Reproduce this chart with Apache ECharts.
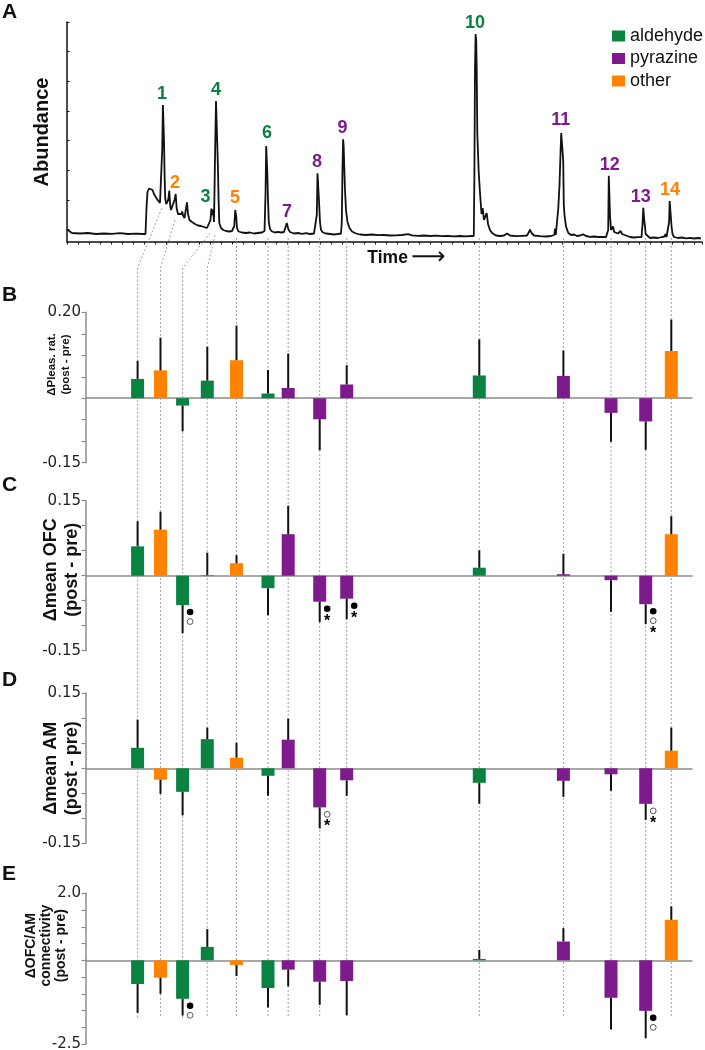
<!DOCTYPE html>
<html><head><meta charset="utf-8">
<script src="https://cdn.jsdelivr.net/npm/echarts@6/dist/echarts.min.js"></script>
<style>html,body{margin:0;padding:0;background:#fff}#c{width:705px;height:1050px}</style>
</head><body><div id="c"></div>
<script>
// ---------- DATA ----------
const compounds = ['1','2','3','4','5','6','7','8','9','10','11','12','13','14'];
const compoundClass = ['aldehyde','other','aldehyde','aldehyde','other','aldehyde','pyrazine','pyrazine','pyrazine','aldehyde','pyrazine','pyrazine','pyrazine','other'];
const classNames = ['aldehyde','pyrazine','other'];

// chromatogram trace: [scan, abundance]
const chromatogram = [[0,12.5],[2,10.5],[5,9],[13,8.5],[21,9],[29,8],[37,8.5],[45,8.2],[53,8.8],[61,8],[69,8.4],[76,8],[78.5,8],[79.5,34],[80.5,50],[82,53.5],[84,53.7],[85.5,52],[87,48],[89,44.5],[91,41.5],[93,39],[94.5,38],[95.2,92],[95.9,137],[96.5,136.5],[97,102],[97.6,67],[98.2,44],[99.2,38],[100.2,36],[101.2,42],[102.3,51.3],[103.2,37],[104,32],[105,31],[106,33],[107.5,42],[108.7,48],[109.6,34],[111,28],[113,26],[114.5,28],[115.2,30.5],[116,26.5],[117.5,24],[119,26],[120,39.7],[121,28],[122.5,22],[125,20],[128,18],[131,16.5],[134,16],[137,15],[140,14],[142,14.5],[143.5,22],[144.4,33.5],[145.2,27],[146.2,32.5],[147,20],[148.3,102],[149,141],[149.8,140.5],[150.3,97],[151,72],[151.6,42],[152.3,19],[154,14],[156.3,12],[159,11],[162,10.5],[165,11],[167.3,16],[168.2,32],[168.7,33],[169.3,25],[170,14],[171.5,10.5],[175,9.5],[179,9],[183,9.5],[187,8.5],[191,9],[195,9.5],[197.5,11],[198.5,47],[199.2,96],[199.8,97.7],[200.4,67],[201,42],[201.8,20],[203,13],[205,10.5],[208,9.5],[211,10.2],[214,9.5],[217,10],[219,12],[219.8,19],[220.5,18.5],[221.3,13],[223,10],[227,8.5],[231,9],[235,8.2],[239,8.8],[243,8],[247,8.5],[249,9.5],[249.8,27],[250.5,68.7],[251.2,68],[251.7,47],[252.3,45],[253,20],[254,12],[256,9.5],[259,8.5],[263,8],[267,7.5],[271,8],[274,8.5],[274.8,20],[275.5,73],[276.1,102.7],[276.7,95],[277.2,77],[278,52],[279,32],[280.5,20],[282.5,14],[285,10.5],[289,8.5],[293,7.5],[299,7],[305,7.5],[311,6.8],[317,7],[323,6.5],[329,6.7],[335,7],[341,7.8],[345,6.7],[351,6.2],[357,6.5],[363,6],[369,6.4],[375,5.8],[381,6],[387,5.7],[393,6],[399,5.6],[404,6],[406.8,6],[407.4,67],[408,172],[408.6,208],[409.2,202],[409.7,174],[410.3,109],[411.7,70],[413,49],[414.5,28],[415.7,34],[417,22],[418.5,20],[419.7,29],[421,18],[423,12],[425,9],[429,6.5],[433,6],[437,6.5],[440,8.5],[443,6.5],[449,5.8],[455,6.2],[460,6.5],[462,10],[463,12.5],[464.5,9],[467,6.5],[473,5.8],[479,5.5],[484,6],[487.3,7],[488,13.5],[488.8,7],[490.5,9],[491.3,34],[492.5,57],[493.3,82],[494.2,109],[495.3,111],[496.2,82],[496.8,37],[497.5,27],[499,15.5],[501.3,9],[504,7],[507,7.5],[510,6],[513,6.5],[516,7.7],[519,6],[523,5.2],[527,5.5],[531,5],[535,5.2],[539,5],[541.2,12],[541.8,66.3],[542.4,66],[543,27],[544,12],[545,14],[546,15.5],[547.2,10],[549,8],[551,8.5],[553.5,11],[555,8],[557,9.5],[559,6.5],[563,5],[567,4.5],[571,4.8],[574.5,5],[575.5,17],[576.3,34.3],[576.9,33.5],[577.4,20],[578,16],[578.6,8],[580,6],[583,4],[587,4.5],[591,4],[595,5],[597.5,5.5],[598.5,8],[599.5,5],[601.4,7],[602.1,20],[602.7,41],[603.3,40],[603.8,26],[604.5,16],[605.5,8],[607,5],[611,4],[615,4.5],[619,3.7],[623,4.2],[627,3.5],[631,4],[634,3.7]];
const abundanceTicks = [12.3, 42, 71.7, 101.4, 131, 160.7, 190.4, 220];

// peak number labels
const labelScan = [95, 108, 138.5, 149, 168, 200, 220, 250, 275.6, 408, 493.7, 542.7, 573.7, 603];
const peakTop   = [137, 48, 34, 141, 33, 98, 19, 69, 103, 208, 111, 66, 34, 41];

// connectors from chromatogram to bar rows
const connStartScan = [94.7, 108, 143, 148, 169.5, 201, 221.2, 252.7, 279.7, 412.3, 496.4, 544, 578.7, 604.3];
const connStartAbund = [33.7, 22, 8.7, 7, 4, 4, 4, 4, 4, 4, 4, 4, 4, 4];
const connKinkAbund = -26;
const connEndAbund = -776;

// bar positions (scan) in panels B-E
const barScan = [70.6, 93.5, 115.6, 140.3, 169.5, 201, 221.2, 252.7, 279.7, 412.3, 496.4, 544, 578.7, 604.3];

const dPleas    = [0.045, 0.065, -0.017, 0.041, 0.0885, 0.011, 0.024, -0.049, 0.032, 0.053, 0.052, -0.034, -0.054, 0.11];
const dPleasErr = [0.087, 0.141, -0.077, 0.12, 0.169, 0.066, 0.104, -0.121, 0.077, 0.137, 0.111, -0.1015, -0.12, 0.183];

const dOFC    = [0.0587, 0.092, -0.0587, 0.001, 0.025, -0.025, 0.083, -0.052, -0.046, 0.016, 0.003, -0.009, -0.057, 0.083];
const dOFCErr = [0.109, 0.128, -0.115, 0.046, 0.041, -0.079, 0.14, -0.093, -0.087, 0.051, 0.044, -0.072, -0.097, 0.119];
const sigOFC  = ['', '', '●○', '', '', '', '', '●*', '●*', '', '', '', '●○*', ''];

const dAM    = [0.0407, -0.0227, -0.047, 0.058, 0.021, -0.015, 0.057, -0.078, -0.024, -0.029, -0.025, -0.012, -0.071, 0.035];
const dAMErr = [0.097, -0.051, -0.094, 0.081, 0.051, -0.055, 0.099, -0.12, -0.055, -0.071, -0.057, -0.045, -0.103, 0.081];
const sigAM  = ['', '', '', '', '', '', '', '○*', '', '', '', '', '○*', ''];

const dConn    = [-0.71, -0.52, -1.15, 0.40, -0.14, -0.83, -0.28, -0.64, -0.62, 0.04, 0.56, -1.12, -1.51, 1.21];
const dConnErr = [-1.57, -1.0, -1.65, 0.93, -0.47, -1.41, -0.78, -1.33, -1.64, 0.31, 0.96, -2.07, -2.33, 1.61];
const sigConn  = ['', '', '●○', '', '', '', '', '', '', '', '', '', '●○', ''];

// ---------- STYLE / LAYOUT ----------
const classColors = {aldehyde:'#0A8241', pyrazine:'#7D1B8C', other:'#FF8200'};
const FONT = 'Liberation Sans';
const GRAY = '#8c8c8c';

const panels = [
  {letter:'B', title:'ΔPleas. rat.\n(post - pre)', values:dPleas, errs:dPleasErr, sig:null, min:-0.15, max:0.20, interval:0.05, dec:2,
   top:312.3, height:150.4, nameSize:11.5, nameLine:14.5, nameGap:12.5, nameShift:23, letterTop:285},
  {letter:'C', title:'Δmean OFC\n(post - pre)', values:dOFC, errs:dOFCErr, sig:sigOFC, min:-0.15, max:0.15, interval:0.05, dec:2,
   top:500.7, height:150, nameSize:18, nameLine:20.5, nameGap:4, nameShift:6, letterTop:475},
  {letter:'D', title:'Δmean AM\n(post - pre)', values:dAM, errs:dAMErr, sig:sigAM, min:-0.15, max:0.15, interval:0.05, dec:2,
   top:693, height:150.5, nameSize:18, nameLine:20.5, nameGap:4, nameShift:0, letterTop:670},
  {letter:'E', title:'ΔOFC/AM\nconnectivity\n(post - pre)', values:dConn, errs:dConnErr, sig:sigConn, min:-2.5, max:2.0, interval:0.5, dec:1,
   top:893.3, height:150.7, nameSize:14, nameLine:15, nameGap:17.5, nameShift:23, letterTop:864}
];

const A_LEFT = 67, A_RIGHT = 3, A_TOP = 22, A_HEIGHT = 220;
const P_LEFT = 86, P_RIGHT = 13;
const scanMax = 705 - A_LEFT - A_RIGHT;           // 1 scan per px in panel A
const pMin = P_LEFT - A_LEFT, pMax = 705 - P_RIGHT - A_LEFT;

const grids = [{left:A_LEFT, right:A_RIGHT, top:A_TOP, height:A_HEIGHT, outerBoundsMode:'none'}];
const xAxes = [{
  gridIndex:0, type:'value', min:0, max:scanMax, interval:11,
  axisLine:{show:true, onZero:false, lineStyle:{color:'#111', width:1.5}},
  axisTick:{show:true, inside:false, length:2.5, lineStyle:{color:'#111', width:1}},
  axisLabel:{show:false}, splitLine:{show:false},
  name:'{t|Time} {a|⟶}', nameLocation:'middle', nameGap:4, nameMoveOverlap:false,
  nameTextStyle:{padding:[0,0,0,44], rich:{
    t:{fontSize:17.5, fontWeight:'bold', fontFamily:FONT, color:'#111'},
    a:{fontSize:24, fontFamily:'DejaVu Sans', color:'#111'}}}
}];
const yAxes = [{
  gridIndex:0, type:'value', min:0, max:220,
  axisLine:{show:true, lineStyle:{color:'#111', width:1.5}},
  axisTick:{show:true, inside:true, length:2.5, customValues:abundanceTicks, lineStyle:{color:'#111'}},
  axisLabel:{show:false}, splitLine:{show:false},
  name:'Abundance', nameLocation:'middle', nameGap:15, nameMoveOverlap:false,
  nameTextStyle:{fontSize:20, fontWeight:'bold', fontFamily:FONT, color:'#111'}
}];
const titles = [{text:'A', left:2, top:2, padding:0, textStyle:{fontSize:21, fontWeight:'bold', fontFamily:FONT, color:'#111'}}];

const series = [];

// connectors (drawn in panel A's scale, extending down the page)
series.push({
  type:'custom', xAxisIndex:0, yAxisIndex:0, clip:false, silent:true, z:1,
  data: compounds.map((c,i)=>[connStartScan[i], connStartAbund[i], barScan[i]]),
  renderItem:(params, api)=>{
    const p0 = api.coord([api.value(0), api.value(1)]);
    const p1 = api.coord([api.value(2), connKinkAbund]);
    const p2 = api.coord([api.value(2), connEndAbund]);
    return {type:'polyline', shape:{points:[p0,p1,p2]},
      style:{stroke:'#a0a0a0', lineWidth:1, lineDash:[2,2], fill:null}};
  }
});
// chromatogram
series.push({
  type:'line', xAxisIndex:0, yAxisIndex:0, data:chromatogram, showSymbol:false, symbol:'none',
  lineStyle:{color:'#111', width:1.8}, z:3, silent:true
});
// peak labels
series.push({
  type:'scatter', xAxisIndex:0, yAxisIndex:0, symbolSize:1, z:4, silent:true,
  itemStyle:{color:'rgba(0,0,0,0)', opacity:1},
  data: labelScan.map((t,i)=>({value:[t, peakTop[i]], label:{color:classColors[compoundClass[i]], opacity:1}})),
  label:{show:true, position:'top', distance:1, fontSize:18, fontWeight:'bold', fontFamily:FONT, opacity:1,
    formatter:(p)=>compounds[p.dataIndex]}
});

panels.forEach((pn, k)=>{
  const gi = k+1;
  grids.push({left:P_LEFT, right:P_RIGHT, top:pn.top, height:pn.height, outerBoundsMode:'none'});
  xAxes.push({gridIndex:gi, type:'value', min:pMin, max:pMax,
    axisLine:{show:true, onZero:true, lineStyle:{color:GRAY, width:1.5}},
    axisTick:{show:false}, axisLabel:{show:false}, splitLine:{show:false}});
  yAxes.push({gridIndex:gi, type:'value', min:pn.min, max:pn.max, interval:pn.interval,
    axisLine:{show:true, lineStyle:{color:GRAY, width:1.5}},
    axisTick:{show:true, inside:false, length:4.5, lineStyle:{color:GRAY, width:1.2}},
    axisLabel:{show:true, margin:5, fontSize:15, fontFamily:'DejaVu Sans', color:'#222',
      formatter:(v)=> (Math.abs(v-pn.min)<1e-9 || Math.abs(v-pn.max)<1e-9) ? v.toFixed(pn.dec) : ''},
    splitLine:{show:false},
    name:pn.title, nameLocation:'middle', nameGap:pn.nameGap, nameMoveOverlap:false,
    nameTextStyle:{fontSize:pn.nameSize, lineHeight:pn.nameLine, fontWeight:'bold', fontFamily:FONT, color:'#111',
      padding:[0,0,0,pn.nameShift*2]}
  });
  titles.push({text:pn.letter, left:2, top:pn.letterTop, padding:0,
    textStyle:{fontSize:21, fontWeight:'bold', fontFamily:FONT, color:'#111'}});

  series.push({
    type:'bar', xAxisIndex:gi, yAxisIndex:gi, barWidth:13, z:3, silent:true,
    data: barScan.map((t,i)=>({value:[t, pn.values[i]], itemStyle:{color:classColors[compoundClass[i]]}}))
  });
  series.push({
    type:'custom', xAxisIndex:gi, yAxisIndex:gi, clip:false, silent:true, z:4,
    data: barScan.map((t,i)=>[t, pn.values[i], pn.errs[i]]),
    renderItem:(params, api)=>{
      const p0 = api.coord([api.value(0), api.value(1)]);
      const p1 = api.coord([api.value(0), api.value(2)]);
      return {type:'line', shape:{x1:p0[0], y1:p0[1], x2:p1[0], y2:p1[1]}, style:{stroke:'#111', lineWidth:2}};
    }
  });
  if (pn.sig) {
    const sig = pn.sig;
    series.push({
      type:'custom', xAxisIndex:gi, yAxisIndex:gi, clip:false, silent:true, z:5,
      data: barScan.map((t,i)=>[t, pn.values[i]]),
      renderItem:(params, api)=>{
        const s = sig[params.dataIndex];
        if (!s) return null;
        const b = api.coord([api.value(0), api.value(1)]);
        const x = b[0] + 7.5;
        let y = b[1] + 7;
        const children = [];
        for (const ch of s) {
          if (ch === '●') children.push({type:'circle', shape:{cx:x, cy:y, r:3.3}, style:{fill:'#000'}});
          else if (ch === '○') children.push({type:'circle', shape:{cx:x, cy:y, r:2.9}, style:{fill:'#fff', stroke:'#555', lineWidth:1}});
          else children.push({type:'text', style:{text:'*', x:x, y:y+3, fontSize:16, fontWeight:'bold', fontFamily:FONT,
                 fill:'#000', align:'center', verticalAlign:'middle'}});
          y += 9.5;
        }
        return {type:'group', children};
      }
    });
  }
});

// legend entries
classNames.forEach(c=>{
  series.push({type:'scatter', name:c, xAxisIndex:1, yAxisIndex:1, data:[], itemStyle:{color:classColors[c], opacity:1}});
});

const option = {
  animation:false,
  textStyle:{fontFamily:FONT},
  title: titles,
  legend:{data:classNames, orient:'vertical', left:612, top:27, padding:0, itemWidth:13, itemHeight:11, itemGap:4.5,
    icon:'rect', selectedMode:false, itemStyle:{opacity:1},
    textStyle:{fontSize:18, color:'#111', fontFamily:FONT}},
  grid: grids, xAxis: xAxes, yAxis: yAxes, series
};
const chart = echarts.init(document.getElementById('c'), null, {renderer:'canvas'});
chart.setOption(option);
</script></body></html>
